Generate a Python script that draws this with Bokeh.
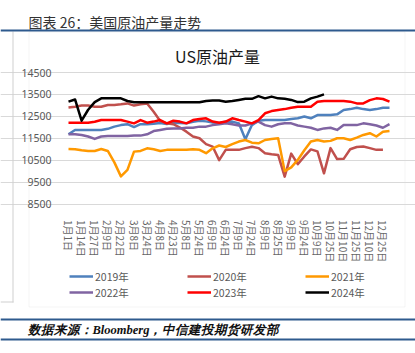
from bokeh.plotting import figure
from bokeh.models import (FixedTicker, Legend, LegendItem, Label, BoxAnnotation, Range1d)
from bokeh.embed import file_html
from bokeh.resources import INLINE

# ---------------- data ----------------
tick_labels = ["1月1日", "1月14日", "1月27日", "2月9日", "2月22日", "3月8日", "3月24日",
               "4月8日", "4月23日", "5月8日", "5月24日", "6月9日", "6月24日", "7月9日",
               "7月24日", "8月9日", "8月25日", "9月9日", "9月24日", "10月9日", "10月25日",
               "11月10日", "11月25日", "12月10日", "12月25日"]

y_ticks = [8500, 9500, 10500, 11500, 12500, 13500, 14500]

series_names = ["2019年", "2020年", "2021年", "2022年", "2023年", "2024年"]

y2019 = [11680, 11880, 11880, 11880, 11880, 11880, 11930, 12030, 12100, 12140,
         12010, 12140, 12140, 12160, 12200, 12150, 12200, 12200, 12180, 12250,
         12300, 12270, 12220, 12200, 12250, 12260, 12180, 11450, 12100, 12300,
         12330, 12330, 12330, 12330, 12380, 12410, 12490, 12410, 12560, 12560,
         12560, 12590, 12790, 12830, 12890, 12830, 12790, 12830, 12890, 12890]

y2020 = [12900, 12940, 12990, 12990, 12940, 12940, 13020, 13020, 13050, 13090,
         12990, 13050, 13090, 12710, 12290, 12180, 12140, 11990, 11800, 11580,
         11500, 11230, 11120, 10500, 10970, 10970, 10970, 11050, 11110, 11050,
         10820, 10770, 10740, 9750, 10800, 10320, 10670, 10990, 10900, 9900,
         11050, 10550, 10560, 11000, 11100, 11120, 11050, 10970, 10970]

y2021 = [11010, 11000, 10950, 10920, 10920, 11010, 10920, 10400, 9760, 10060,
         10890, 10920, 11040, 11000, 10920, 10970, 10970, 10970, 10970, 11000,
         10970, 10820, 11040, 11170, 11100, 11230, 11350, 11420, 11300, 11270,
         11420, 11470, 11500, 10000, 10170, 10510, 10950, 11350, 11420, 11350,
         11380, 11500, 11500, 11420, 11530, 11650, 11730, 11580, 11800, 11830]

y2022 = [11680, 11680, 11650, 11580, 11470, 11580, 11600, 11600, 11600, 11600,
         11620, 11620, 11680, 11830, 11880, 11930, 11950, 11950, 11980, 11980,
         12030, 12030, 12100, 12140, 12180, 12140, 12080, 12080, 12180, 12260,
         12100, 12030, 12140, 12180, 12180, 12080, 12030, 11980, 11880, 11950,
         11980, 11880, 12100, 12100, 12100, 12180, 12140, 12080, 11980, 12140]

y2023 = [12210, 12210, 12210, 12210, 12250, 12330, 12330, 12330, 12330, 12260,
         12180, 12330, 12210, 12260, 12330, 12180, 12300, 12260, 12180, 12330,
         12380, 12410, 12260, 12210, 12260, 12410, 12330, 12260, 12180, 12330,
         12640, 12740, 12790, 12830, 12890, 12940, 12940, 12940, 13170, 13200,
         13200, 13200, 13200, 13170, 13090, 13090, 13240, 13320, 13290, 13170]

y2024 = [13170, 13270, 12300, 12800, 13150, 13320, 13320, 13320, 13320, 13200,
         13140, 13140, 13140, 13140, 13140, 13140, 13140, 13140, 13140, 13140,
         13140, 13200, 13220, 13220, 13170, 13200, 13250, 13300, 13300, 13420,
         13320, 13400, 13320, 13300, 13250, 13150, 13170, 13320, 13400, 13500]

colors = ["#4F81BD", "#C0504D", "#FF9900", "#8064A2", "#FF0000", "#000000"]
all_series = [y2019, y2020, y2021, y2022, y2023, y2024]

# ---------------- geometry (pixels) ----------------
W, H = 415, 353
PL, PR, PT, PB = 68.0, 389.0, 72.0, 203.5       # plot area in canvas px
n_x = 49
x_per_px = n_x / (PR - PL)
y_per_px = (y_ticks[-1] - y_ticks[0]) / (PB - PT)
x0 = 0 - PL * x_per_px
x1 = x0 + W * x_per_px
y1 = y_ticks[-1] + PT * y_per_px
y0 = y1 - H * y_per_px

p = figure(width=W, height=H, output_backend="svg", toolbar_location=None,
           x_range=Range1d(x0, x1), y_range=Range1d(y0, y1),
           min_border_left=0, min_border_right=0, min_border_top=0,
           min_border_bottom=0)
p.outline_line_color = None
p.background_fill_color = "white"
p.border_fill_color = "white"

x_lo, x_hi = -0.15, 49.15

p.xgrid.grid_line_color = None
p.ygrid.grid_line_color = "#D9D9D9"
p.ygrid.grid_line_width = 1
p.ygrid.bounds = (x_lo, x_hi)

p.yaxis.ticker = FixedTicker(ticks=y_ticks)
p.yaxis.fixed_location = x_lo
p.yaxis.axis_line_color = None
p.yaxis.major_tick_line_color = None
p.yaxis.minor_tick_line_color = None
p.yaxis.major_label_standoff = 10
p.yaxis.major_label_text_font_size = "10.5px"
p.yaxis.major_label_text_color = "#595959"
p.yaxis.major_label_text_font = "Noto Sans"

tick_pos = list(range(0, 2 * len(tick_labels), 2))
p.xaxis.ticker = FixedTicker(ticks=tick_pos)
p.xaxis.fixed_location = y_ticks[0]
p.xaxis.bounds = (x_lo, x_hi)
p.xaxis.major_label_overrides = {t: lab for t, lab in zip(tick_pos, tick_labels)}
p.xaxis.major_label_orientation = "vertical"
p.xaxis.axis_line_color = "#D9D9D9"
p.xaxis.major_tick_line_color = None
p.xaxis.minor_tick_line_color = None
p.xaxis.major_label_standoff = 10
p.xaxis.major_label_text_font_size = "10px"
p.xaxis.major_label_text_color = "#666666"
p.xaxis.major_label_text_font = "Noto Sans CJK SC"

items = []
for name, ys, c in zip(series_names, all_series, colors):
    xs = list(range(len(ys)))
    r = p.line(xs, ys, line_color=c, line_width=2.5, line_join="round")
    items.append(LegendItem(label=name, renderers=[r]))

legend = Legend(items=items, orientation="horizontal", ncols=3,
                location=(69, H - 300),
                glyph_width=24, glyph_height=16, label_height=16, label_width=92,
                spacing=0, padding=0, margin=0, label_standoff=2,
                border_line_color=None, background_fill_alpha=0,
                label_text_font_size="10.5px", label_text_color="#595959",
                label_text_font="Noto Sans CJK SC")
p.add_layout(legend)

# ---------------- page decorations (screen px, y from bottom) ----------------
def box(l, r, t, b, fill=None, line=None, level="underlay"):
    return BoxAnnotation(left=l, right=r, top=H - t, bottom=H - b,
                         left_units="screen", right_units="screen",
                         top_units="screen", bottom_units="screen",
                         fill_color=fill, fill_alpha=1 if fill else 0,
                         line_color=line, line_width=1, level=level)

p.add_layout(box(28.5, 404.5, 31.5, 306.5, fill=None, line="#D9D9D9"))
p.add_layout(box(12, 13, 31, 302, fill="#D0D0D0"))
p.add_layout(box(0, 13, 301, 302, fill="#D0D0D0"))
p.add_layout(box(0, W, 29, 31, fill="#2E5A8E", level="overlay"))
p.add_layout(box(0, W, 318, 320, fill="#2E5A8E", level="overlay"))
p.add_layout(box(0, W, 338, 340, fill="#2E5A8E", level="overlay"))

p.add_layout(Label(x=28, y=H - 21, x_units="screen", y_units="screen",
                   text="图表 26：美国原油产量走势", text_baseline="middle",
                   text_font="Noto Sans CJK SC", text_font_size="14px",
                   text_color="#333333"))
p.add_layout(Label(x=217, y=H - 55, x_units="screen", y_units="screen",
                   text="US原油产量", text_baseline="middle", text_align="center",
                   text_font="Noto Sans CJK SC", text_font_size="16px",
                   text_color="#1A1A1A"))
p.add_layout(Label(x=27, y=H - 329.5, x_units="screen", y_units="screen",
                   text="数据来源：Bloomberg，中信建投期货研发部", text_baseline="middle",
                   text_font="Liberation Serif", text_font_style="bold italic",
                   text_font_size="12.5px", text_color="#111111"))

open("out.html", "w").write(file_html(p, INLINE))
